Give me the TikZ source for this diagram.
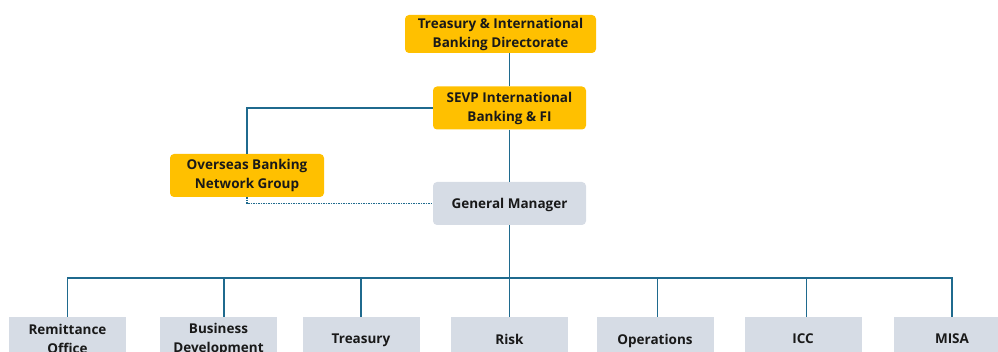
\documentclass[tikz,border=0pt]{standalone}
\usepackage{fontspec}
\setmainfont{Open Sans}
\usetikzlibrary{positioning}

\definecolor{gold}{HTML}{FFC000}
\definecolor{slate}{HTML}{D6DCE5}
\definecolor{link}{HTML}{1F6A8E}

\begin{document}
\begin{tikzpicture}[x=1pt,y=-1pt,
    head/.style={rectangle, fill=gold, rounded corners=4pt, minimum width=153pt, minimum height=43pt, align=center, inner sep=0pt, text=black!90, font=\fontsize{13.5}{19}\selectfont\bfseries},
    mgr/.style={head, fill=slate},
    unit/.style={mgr, rounded corners=0pt, minimum width=117pt, minimum height=44pt},
    oneline/.style={text depth=0pt},
    wire/.style={draw=link, line width=1.5pt},
    dotwire/.style={wire, dash pattern=on 1.5pt off 1pt}]

    \useasboundingbox (0,0) rectangle (998,352);
    \clip (0,0) rectangle (998,352);

    % Top of the chain
    \node[head, minimum width=191pt, minimum height=38pt] (dir) at (500.5,34) {Treasury \& International\\Banking Directorate};
    \node[head] (sevp) at (509.5,108) {SEVP International\\Banking \& FI};
    \node[head, minimum width=154pt] (obn) at (247,175.5) {Overseas Banking\\Network Group};
    \node[mgr, oneline] (gm) at (509.5,203.5) {General Manager};

    % Departments
    \node[unit] (remit) at (67.5,339) {Remittance\\Office};
    \node[unit] (bizdev) at (218.5,339) {Business\\Development};
    \node[unit, oneline] (treas) at (361,339) {Treasury};
    \node[unit, oneline] (risk) at (509.5,339) {Risk};
    \node[unit, oneline] (ops) at (655,339) {Operations};
    \node[unit, oneline] (icc) at (803,339) {ICC};
    \node[unit, oneline] (misa) at (952,339) {MISA};

    \coordinate (bus) at (509.5,278);

    % Connections
    \draw[wire] (sevp.north) -- (sevp.north |- dir.south);
    \draw[wire] (sevp.west) -| (obn.north);
    \draw[wire] (sevp.south) -- (gm.north);
    \draw[dotwire] (obn.south) |- (gm.west);
    \draw[wire] (gm.south) -- (bus);
    \draw[wire] (remit.north) |- (bus);
    \draw[wire] ([xshift=5.5pt]bizdev.north) |- (bus);
    \draw[wire] (treas.north) |- (bus);
    \draw[wire] (risk.north) -- (bus);
    \draw[wire] ([xshift=2.5pt]ops.north) |- (bus);
    \draw[wire] ([xshift=3.5pt]icc.north) |- (bus);
    \draw[wire] (misa.north) |- (bus);
\end{tikzpicture}
\end{document}
